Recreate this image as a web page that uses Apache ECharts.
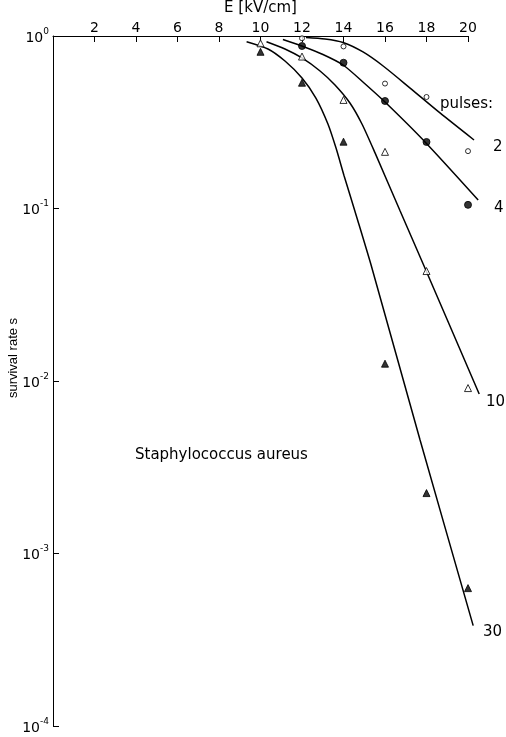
<!DOCTYPE html>
<html><head><meta charset="utf-8">
<script src="https://cdn.jsdelivr.net/npm/echarts@6/dist/echarts.min.js"></script>
<style>html,body{margin:0;padding:0;background:#fff}#c{width:506px;height:737px}</style>
</head><body><div id="c"></div>
<script>
// measured points (E in kV/cm, survival rate s)
const E_2 = [12, 14, 16, 18, 20];
const S_2 = [0.97, 0.87, 0.53, 0.443, 0.215];
const E_4 = [12, 14, 16, 18, 20];
const S_4 = [0.875, 0.70, 0.42, 0.243, 0.105];
const E_10 = [10, 12, 14, 16, 18, 20];
const S_10 = [0.907, 0.76, 0.426, 0.213, 0.0434, 0.0091];
const E_30 = [10, 12, 14, 16, 18, 20];
const S_30 = [0.81, 0.536, 0.244, 0.0126, 0.00224, 0.00063];

// fitted curves
const fitE_2 = [12.19, 13.11, 13.98, 14.94, 15.91, 17.21, 18.65, 20.29];
const fitS_2 = [0.980, 0.961, 0.917, 0.808, 0.670, 0.499, 0.358, 0.2495];
const fitE_4 = [11.08, 12.05, 13.01, 13.98, 14.99, 16.0, 17.93, 20.49];
const fitS_4 = [0.954, 0.869, 0.781, 0.679, 0.534, 0.414, 0.243, 0.112];
const fitE_10 = [10.29, 11.18, 12.0, 12.87, 13.59, 14.31, 14.89, 15.52, 16.73, 17.84, 20.54];
const fitS_10 = [0.927, 0.841, 0.746, 0.627, 0.520, 0.409, 0.309, 0.210, 0.0967, 0.0477, 0.00841];
const fitE_30 = [9.33, 10.36, 11.18, 12.0, 12.67, 13.25, 13.64, 14.02, 14.65, 15.37, 17.69, 20.25];
const fitS_30 = [0.927, 0.841, 0.716, 0.571, 0.437, 0.309, 0.224, 0.156, 0.0881, 0.0452, 0.00455, 0.000382];

const pulseLabels = ['2', '4', '10', '30'];

const zip = (a, b) => a.map((v, i) => [v, b[i]]);
const FONT = 'DejaVu Sans';

// plot frame geometry
const GL = 53, GT = 36, GW = 415, GH = 690;
const X_MAX = 20, X_EXT = 21; // data layer reaches a bit past the drawn axis end

function lineSeries(name, e, s) {
  return { name: name, type: 'line', xAxisIndex: 1, yAxisIndex: 1, data: zip(e, s), smooth: 0.25,
    showSymbol: false, symbol: 'none', clip: false, lineStyle: { color: '#000', width: 1.5 }, z: 2, silent: true };
}
function scatterSeries(name, e, s, symbol, size, filled) {
  return { name: name, type: 'scatter', xAxisIndex: 1, yAxisIndex: 1, data: zip(e, s), symbol: symbol,
    symbolSize: size, clip: false,
    itemStyle: { color: filled ? '#000' : '#fff', borderColor: '#000', borderWidth: 1 }, z: 3 };
}

const chart = echarts.init(document.getElementById('c'), null, { renderer: 'canvas' });
chart.setOption({
  backgroundColor: '#fff',
  animation: false,
  grid: [
    { left: GL, top: GT, width: GW, height: GH, containLabel: false, outerBoundsMode: 'none' },
    { left: GL, top: GT, width: GW * X_EXT / X_MAX, height: GH, containLabel: false, outerBoundsMode: 'none' }
  ],
  xAxis: [{
    gridIndex: 0, type: 'value', position: 'top', min: 0, max: X_MAX, interval: 2,
    name: 'E [kV/cm]', nameLocation: 'middle', nameGap: 18,
    nameTextStyle: { fontFamily: FONT, fontSize: 15, color: '#000' },
    axisLine: { show: true, lineStyle: { color: '#000', width: 1 } },
    axisTick: { show: true, inside: true, length: 6, lineStyle: { color: '#000' } },
    axisLabel: { fontFamily: FONT, fontSize: 14, color: '#000', margin: 1, showMinLabel: false },
    splitLine: { show: false }
  }, {
    gridIndex: 1, type: 'value', min: 0, max: X_EXT, show: false, splitLine: { show: false }
  }],
  yAxis: [{
    gridIndex: 0, type: 'log', logBase: 10, min: 0.0001, max: 1,
    axisLine: { show: true, lineStyle: { color: '#000', width: 1 } },
    axisTick: { show: true, inside: true, length: 6, lineStyle: { color: '#000' } },
    minorTick: { show: false },
    splitLine: { show: false },
    axisLabel: {
      margin: 4, color: '#000',
      formatter: function (v) { const ex = Math.round(Math.log10(v)); return '{b|10}{s|' + (ex === 0 ? '0' : ex) + '}'; },
      rich: {
        b: { fontFamily: FONT, fontSize: 14, color: '#000', lineHeight: 18, verticalAlign: 'bottom' },
        s: { fontFamily: FONT, fontSize: 9, color: '#000', lineHeight: 18, verticalAlign: 'top' }
      }
    }
  }, {
    gridIndex: 1, type: 'log', logBase: 10, min: 0.0001, max: 1, show: false, splitLine: { show: false }
  }],
  series: [
    lineSeries(pulseLabels[0], fitE_2, fitS_2),
    lineSeries(pulseLabels[1], fitE_4, fitS_4),
    lineSeries(pulseLabels[2], fitE_10, fitS_10),
    lineSeries(pulseLabels[3], fitE_30, fitS_30),
    scatterSeries('p2', E_2, S_2, 'circle', 5, false),
    scatterSeries('p4', E_4, S_4, 'circle', 7, true),
    scatterSeries('p10', E_10, S_10, 'triangle', 7, false),
    scatterSeries('p30', E_30, S_30, 'triangle', 7, true)
  ],
  graphic: [
    { type: 'text', x: 440, y: 104, style: { text: 'pulses:', font: '15px ' + FONT, fill: '#000', align: 'left', verticalAlign: 'middle' } },
    { type: 'text', x: 493, y: 147, style: { text: pulseLabels[0], font: '15px ' + FONT, fill: '#000', align: 'left', verticalAlign: 'middle' } },
    { type: 'text', x: 494, y: 208, style: { text: pulseLabels[1], font: '15px ' + FONT, fill: '#000', align: 'left', verticalAlign: 'middle' } },
    { type: 'text', x: 486, y: 402, style: { text: pulseLabels[2], font: '15px ' + FONT, fill: '#000', align: 'left', verticalAlign: 'middle' } },
    { type: 'text', x: 483, y: 632, style: { text: pulseLabels[3], font: '15px ' + FONT, fill: '#000', align: 'left', verticalAlign: 'middle' } },
    { type: 'text', x: 135, y: 455, style: { text: 'Staphylococcus aureus', font: '15px ' + FONT, fill: '#000', align: 'left', verticalAlign: 'middle' } },
    { type: 'text', x: 13, y: 358, rotation: Math.PI / 2, style: { text: 'survival rate s', font: '13px Liberation Sans', fill: '#000', align: 'center', verticalAlign: 'middle' } }
  ]
});
</script></body></html>
